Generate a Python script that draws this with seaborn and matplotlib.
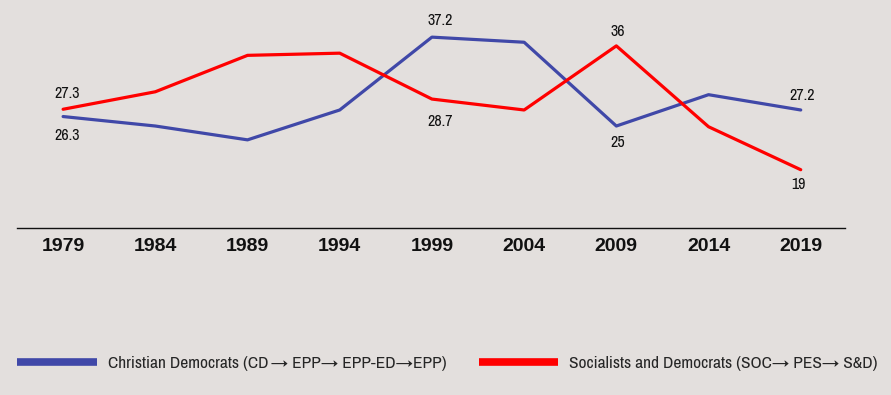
import matplotlib
matplotlib.use("Agg")
import matplotlib.pyplot as plt
import seaborn as sns
import pandas as pd
from matplotlib.lines import Line2D

years = [1979, 1984, 1989, 1994, 1999, 2004, 2009, 2014, 2019]
christian_democrats = [26.3, 25.0, 23.1, 27.2, 37.2, 36.5, 25.0, 29.3, 27.2]
socialists = [27.3, 29.7, 34.7, 35.0, 28.7, 27.2, 36.0, 24.9, 19.0]

cd_name = "Christian Democrats (CD\u2009\u2192 EPP\u2192 EPP-ED\u2192EPP)"
soc_name = "Socialists and Democrats (SOC\u2192 PES\u2192 S&D)"

# value labels shown on the chart
cd_labels = {1979: "26.3", 1999: "37.2", 2009: "25", 2019: "27.2"}
soc_labels = {1979: "27.3", 1999: "28.7", 2009: "36", 2019: "19"}
# label offsets in points (dx, dy)
cd_offsets = {1979: (3, -14), 1999: (6, 12), 2009: (1, -12), 2019: (1, 10.5)}
soc_offsets = {1979: (3, 11.5), 1999: (6, -16), 2009: (1, 10.5), 2019: (-2, -11)}

BG = "#e3dfdd"
BLUE = "#4048a8"
RED = "#ff0000"
NARROW = ["Archivo Narrow", "Liberation Sans Narrow", "DejaVu Sans"]

df = pd.DataFrame({
    "year": years * 2,
    "share": christian_democrats + socialists,
    "group": [cd_name] * len(years) + [soc_name] * len(years),
})

sns.set_theme(style="white")
plt.rcParams["font.family"] = NARROW

fig = plt.figure(figsize=(8.91, 3.95), dpi=100, facecolor=BG)
ax = fig.add_axes([17 / 891, 1 - 228 / 395, 828 / 891, 220 / 395])
ax.set_facecolor(BG)

sns.lineplot(data=df, x="year", y="share", hue="group",
             palette={cd_name: BLUE, soc_name: RED},
             linewidth=2.3, legend=False, ax=ax)

for yr, v in zip(years, christian_democrats):
    if yr in cd_labels:
        ax.annotate(cd_labels[yr], (yr, v), xytext=cd_offsets[yr], textcoords="offset points",
                    ha="center", va="center", fontsize=11.5, color="#111111")
for yr, v in zip(years, socialists):
    if yr in soc_labels:
        ax.annotate(soc_labels[yr], (yr, v), xytext=soc_offsets[yr], textcoords="offset points",
                    ha="center", va="center", fontsize=11.5, color="#111111")

ax.set_xlim(1976.5, 2021.4)
ax.set_ylim(11.0, 41.2)
ax.set_xticks(years)
ax.set_xticklabels([str(y) for y in years], fontsize=14, fontweight="bold",
                   family=["Liberation Sans", "DejaVu Sans"], color="#111111")
ax.set_yticks([])
ax.set_xlabel("")
ax.set_ylabel("")
ax.tick_params(axis="x", length=0, pad=7)
for s in ["top", "right", "left"]:
    ax.spines[s].set_visible(False)
ax.spines["bottom"].set_color("#111111")
ax.spines["bottom"].set_linewidth(1.0)

handles = [Line2D([], [], color=BLUE, linewidth=5.5, solid_capstyle="butt"),
           Line2D([], [], color=RED, linewidth=5.5, solid_capstyle="butt")]
fig.legend(handles, [cd_name, soc_name], loc="center left",
           bbox_to_anchor=(17 / 891, 1 - 363 / 395), ncol=2, frameon=False,
           fontsize=12.5, handlelength=4.6, handletextpad=0.63, columnspacing=1.85,
           borderpad=0, borderaxespad=0)

fig.savefig("out.png", dpi=100, facecolor=BG)
